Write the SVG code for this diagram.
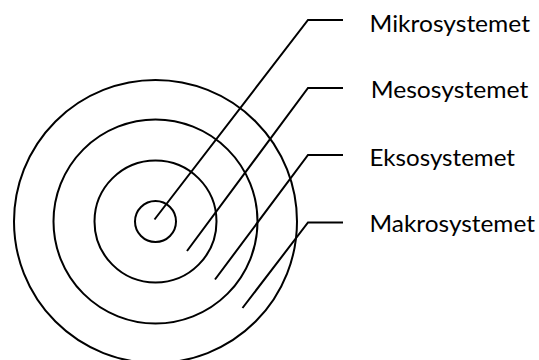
<svg xmlns="http://www.w3.org/2000/svg" width="539" height="360" viewBox="0 0 539 360">
<style>
.c{fill:none;stroke:#000;stroke-width:2}
.l{fill:none;stroke:#000;stroke-width:2;stroke-linejoin:miter}
.t{font-family:Lato,"Open Sans","Liberation Sans",sans-serif;font-size:24px;fill:#000}
</style>
<rect width="539" height="360" fill="#fff"/>
<g id="makrosystemet-ring"><circle class="c" cx="155.5" cy="221.5" r="141.5"/></g>
<g id="eksosystemet-ring"><circle class="c" cx="155.5" cy="221.5" r="102"/></g>
<g id="mesosystemet-ring"><circle class="c" cx="155.5" cy="221.5" r="61"/></g>
<g id="mikrosystemet-ring"><circle class="c" cx="155.5" cy="221.5" r="20.5"/></g>
<g id="connectors">
<polyline class="l" points="154.5,219.5 308,20 343,20"/>
<polyline class="l" points="187,251 308,88 343,88"/>
<polyline class="l" points="215,279.5 308,155 343,155"/>
<polyline class="l" points="242.5,308 308,222.5 343,222.5"/>
</g>
<g id="label-mikro"><text class="t" x="369.5" y="31.5" textLength="160.5" lengthAdjust="spacingAndGlyphs">Mikrosystemet</text></g>
<g id="label-meso"><text class="t" x="370.7" y="98" textLength="157.6" lengthAdjust="spacingAndGlyphs">Mesosystemet</text></g>
<g id="label-ekso"><text class="t" x="369.5" y="166" textLength="145.5" lengthAdjust="spacingAndGlyphs">Eksosystemet</text></g>
<g id="label-makro"><text class="t" x="369.5" y="231.7" textLength="165.5" lengthAdjust="spacingAndGlyphs">Makrosystemet</text></g>
</svg>
